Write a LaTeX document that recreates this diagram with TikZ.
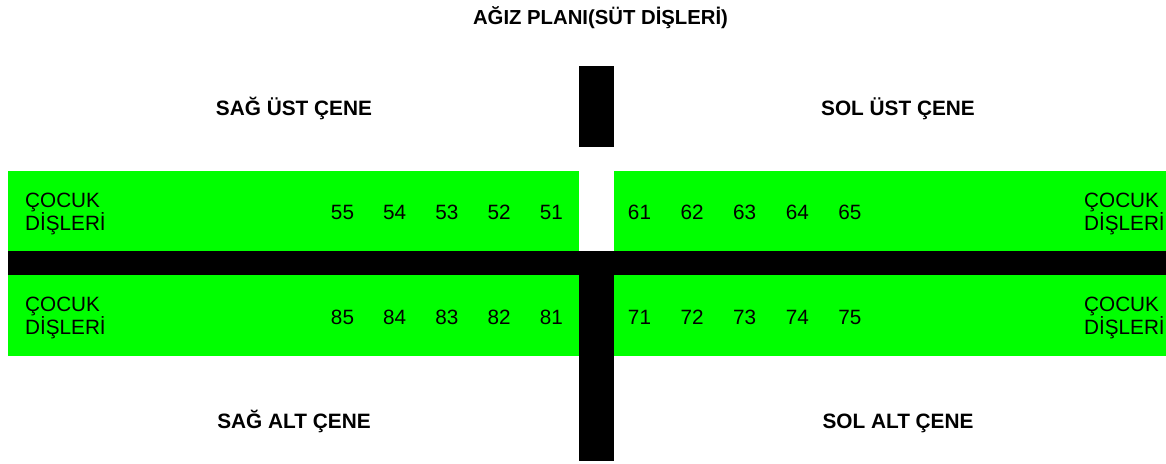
\documentclass[tikz,border=0pt]{standalone}
\usepackage{fontspec}
\setmainfont{Liberation Sans}
\definecolor{brightgreen}{RGB}{0,255,0}
\tikzset{
  gbox/.style={fill=brightgreen, draw=none},
  bbox/.style={fill=black, draw=none},
  txt/.style={inner sep=0pt, font=\fontsize{20.7}{23}\selectfont},
  num/.style={txt, anchor=base},
  lbl/.style={inner sep=0pt, anchor=base, font=\fontsize{20.8}{23}\selectfont\bfseries},
  ttl/.style={inner sep=0pt, anchor=base, font=\fontsize{20.3}{23}\selectfont\bfseries},
}
\begin{document}
\begin{tikzpicture}[x=1pt,y=-1pt]
\useasboundingbox (0,0) rectangle (1166,463);
\fill[white] (0,0) rectangle (1166,463);
% green bands
\path[gbox] (8,171) rectangle (579,250.5);
\path[gbox] (8,275) rectangle (579,355.5);
\path[gbox] (614,171) rectangle (1170,250.5);
\path[gbox] (614,275) rectangle (1170,355.5);
% black bars
\path[bbox] (8,250.5) rectangle (1170,275);
\path[bbox] (579,66) rectangle (614,146.7);
\path[bbox] (579,250.5) rectangle (614,461);
% title and labels
\node[ttl] (title) at (600.5,24) {AĞIZ PLANI(SÜT DİŞLERİ)};
\node[lbl] (sagust) at (294,115) {SAĞ ÜST ÇENE};
\node[lbl] (solust) at (898,115) {SOL ÜST ÇENE};
\node[lbl] (sagalt) at (294,428) {SAĞ ALT ÇENE};
\node[lbl] (solalt) at (898,428) {SOL ALT ÇENE};
% cocuk disleri texts
\node[txt, anchor=base west] (ul1) at (25,207.5) {ÇOCUK};
\node[txt, anchor=base west] (ul2) at (25,230.5) {DİŞLERİ};
\node[txt, anchor=base west] (ll1) at (25,311.5) {ÇOCUK};
\node[txt, anchor=base west] (ll2) at (25,334.5) {DİŞLERİ};
\node[txt, anchor=base west] (ur1) at (1084,207.5) {ÇOCUK};
\node[txt, anchor=base west] (ur2) at (1084,230.5) {DİŞLERİ};
\node[txt, anchor=base west] (lr1) at (1084,311.5) {ÇOCUK};
\node[txt, anchor=base west] (lr2) at (1084,334.5) {DİŞLERİ};
% tooth numbers
\foreach \n [count=\i from 0] in {55,54,53,52,51} {
  \node[num] (t\n) at (342.5+52.2*\i,219.5) {\n};
}
\foreach \n [count=\i from 0] in {85,84,83,82,81} {
  \node[num] (t\n) at (342.5+52.2*\i,324.5) {\n};
}
\foreach \n [count=\i from 0] in {61,62,63,64,65} {
  \node[num] (t\n) at (639.5+52.6*\i,219.5) {\n};
}
\foreach \n [count=\i from 0] in {71,72,73,74,75} {
  \node[num] (t\n) at (639.5+52.6*\i,324.5) {\n};
}
\end{tikzpicture}
\end{document}
